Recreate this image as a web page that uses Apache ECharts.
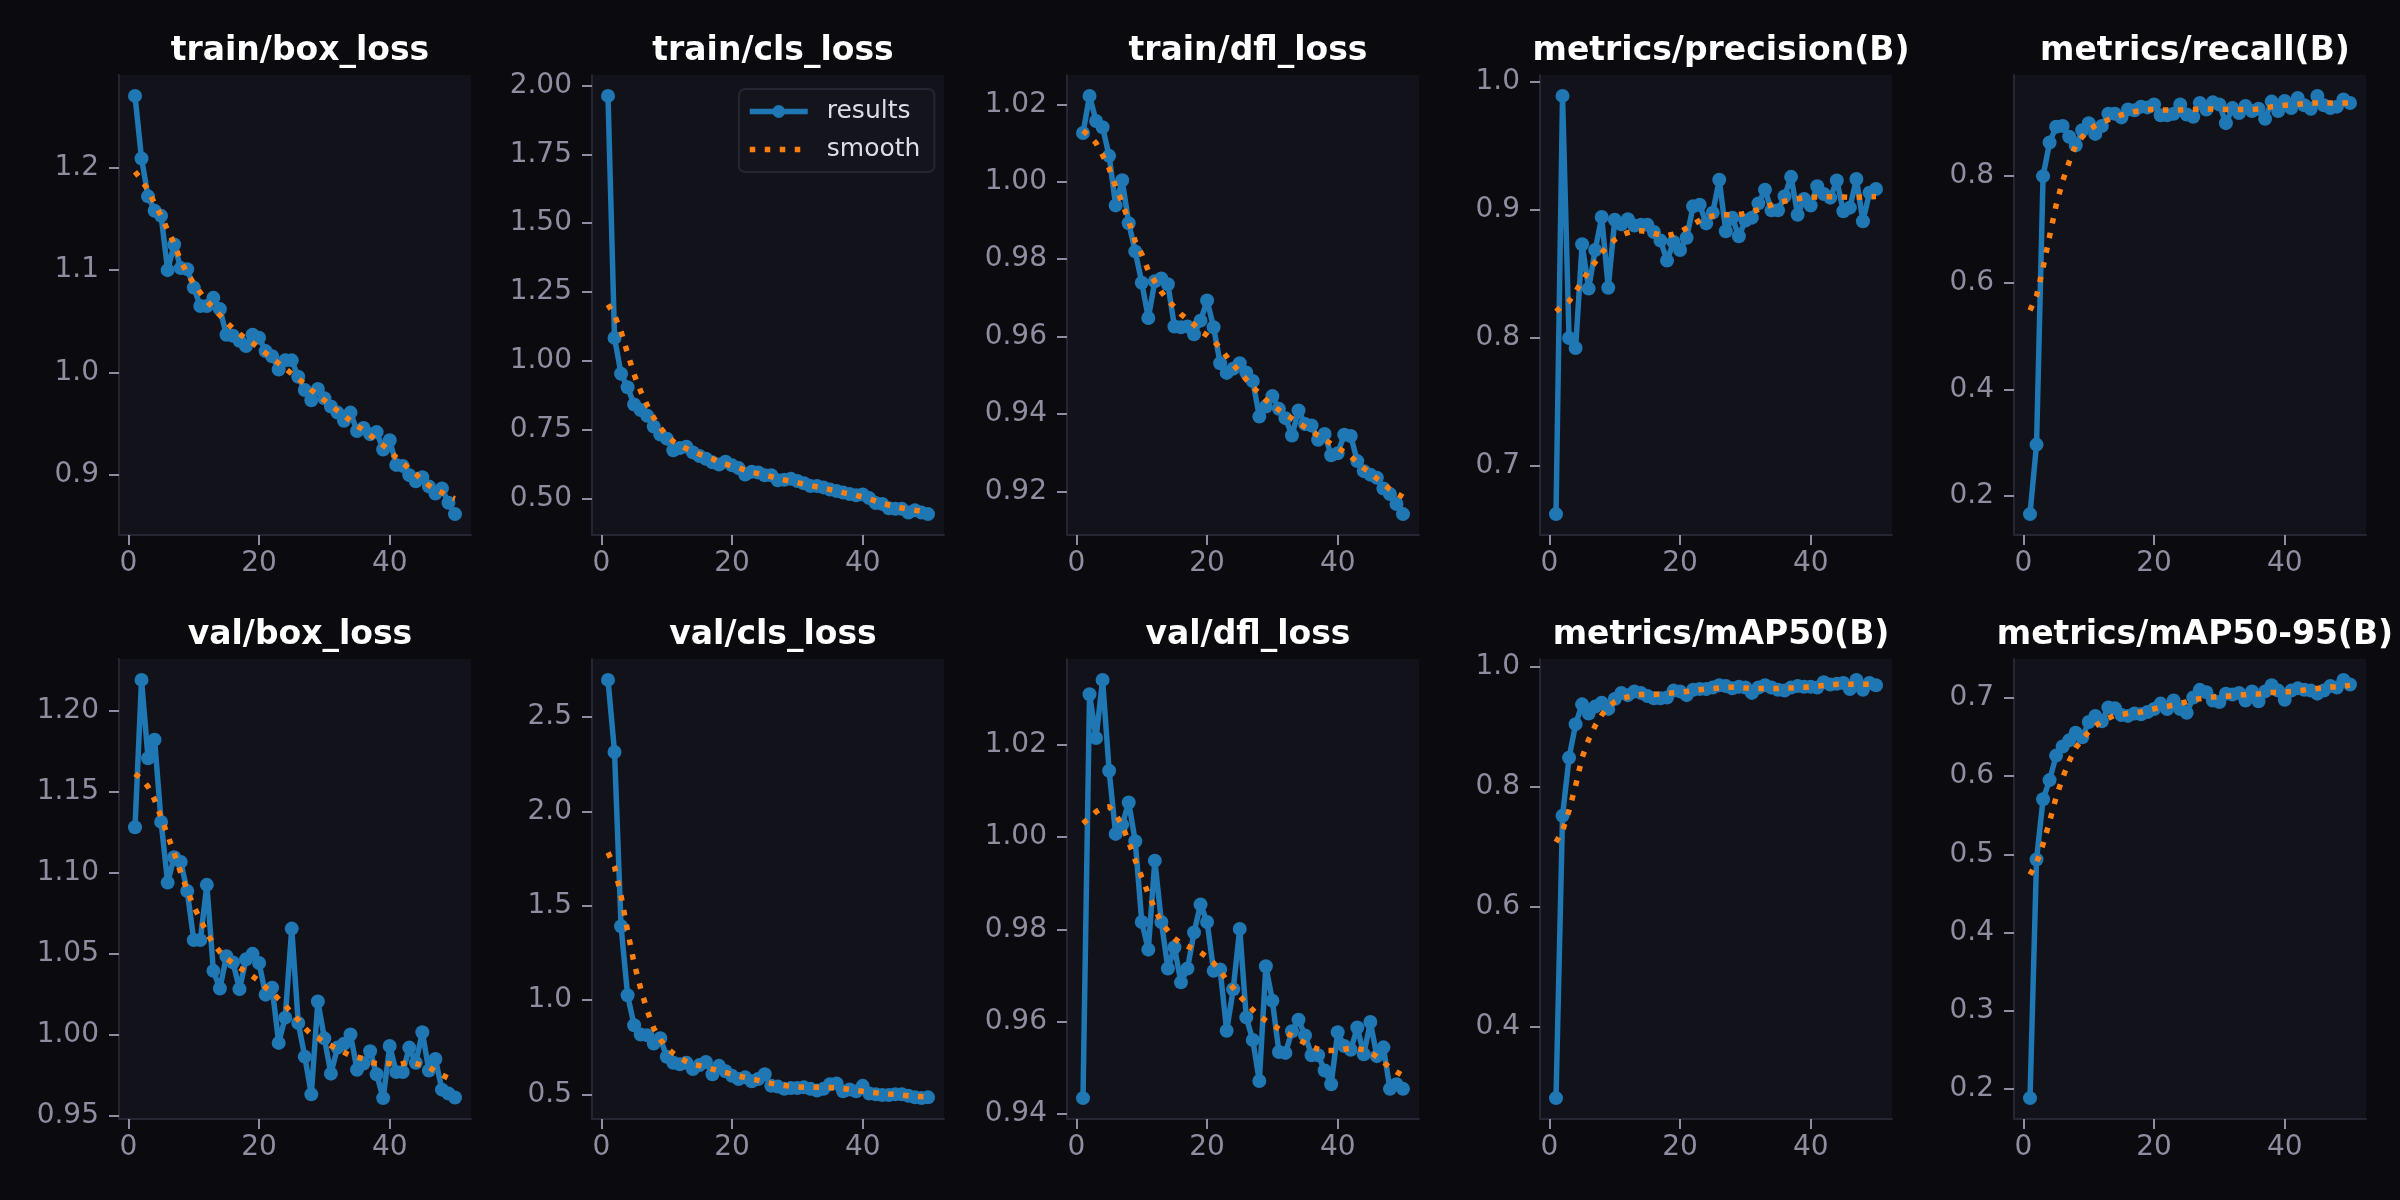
<!DOCTYPE html>
<html lang="en">
  <head>
    <meta charset="UTF-8" />
    <title>results</title>
    <script src="https://cdn.jsdelivr.net/npm/echarts/dist/echarts.min.js"></script>
    <style>
      * {
        padding: 0;
        margin: 0;
      }
      body {
        background-color: #0b0b0f;
      }
      #main {
        width: 2400px;
        height: 1200px;
      }
    </style>
  </head>
  <body>
    <div id="main"></div>
    <script>
      // epochs on the x axis
      var epochs = [
        1, 2, 3, 4, 5, 6, 7, 8, 9, 10, 11, 12, 13, 14, 15, 16, 17, 18, 19, 20,
        21, 22, 23, 24, 25, 26, 27, 28, 29, 30, 31, 32, 33, 34, 35, 36, 37, 38,
        39, 40, 41, 42, 43, 44, 45, 46, 47, 48, 49, 50,
      ];
      var xTicks = [0, 20, 40];

      var trainBox = [
        1.27, 1.209, 1.172, 1.158, 1.153, 1.1, 1.125, 1.102, 1.101, 1.083,
        1.065, 1.065, 1.073, 1.062, 1.037, 1.036, 1.031, 1.026, 1.037, 1.034,
        1.021, 1.016, 1.003, 1.012, 1.012, 0.996, 0.983, 0.973, 0.984, 0.975,
        0.967, 0.961, 0.953, 0.961, 0.943, 0.946, 0.94, 0.942, 0.925, 0.934,
        0.91, 0.909, 0.9, 0.894, 0.898, 0.889, 0.882, 0.887, 0.873, 0.862,
      ];
      var trainBoxSmooth = [
        1.196, 1.188, 1.178, 1.165, 1.153, 1.139, 1.126, 1.109, 1.097, 1.087,
        1.078, 1.07, 1.063, 1.056, 1.049, 1.043, 1.038, 1.033, 1.029, 1.024,
        1.019, 1.014, 1.009, 1.004, 0.999, 0.994, 0.989, 0.983, 0.978, 0.973,
        0.968, 0.963, 0.958, 0.953, 0.948, 0.944, 0.939, 0.934, 0.929, 0.924,
        0.917, 0.912, 0.906, 0.901, 0.895, 0.89, 0.886, 0.883, 0.879, 0.877,
      ];

      var trainCls = [
        1.962, 1.083, 0.953, 0.904, 0.841, 0.821, 0.8, 0.761, 0.732, 0.717,
        0.675, 0.683, 0.688, 0.667, 0.654, 0.644, 0.631, 0.623, 0.633, 0.62,
        0.61, 0.587, 0.597, 0.594, 0.584, 0.584, 0.566, 0.568, 0.571, 0.563,
        0.555, 0.545, 0.545, 0.54, 0.532, 0.527, 0.521, 0.516, 0.511, 0.514,
        0.501, 0.483, 0.48, 0.464, 0.462, 0.462, 0.449, 0.457, 0.449, 0.443,
      ];
      var trainClsSmooth = [
        1.204, 1.165, 1.106, 1.027, 0.95, 0.89, 0.838, 0.793, 0.757, 0.728,
        0.707, 0.693, 0.681, 0.671, 0.661, 0.652, 0.644, 0.631, 0.625, 0.616,
        0.611, 0.603, 0.595, 0.59, 0.584, 0.579, 0.572, 0.567, 0.562, 0.557,
        0.552, 0.547, 0.542, 0.537, 0.532, 0.527, 0.521, 0.516, 0.511, 0.505,
        0.499, 0.49, 0.482, 0.476, 0.47, 0.465, 0.461, 0.457, 0.454, 0.452,
      ];

      var trainDfl = [
        1.0126, 1.0222, 1.0157, 1.0141, 1.0067, 0.9939, 1.0004, 0.9893, 0.982,
        0.9739, 0.9648, 0.9743, 0.975, 0.9735, 0.9626, 0.9624, 0.9626, 0.9606,
        0.9641, 0.9693, 0.9624, 0.9531, 0.9506, 0.9517, 0.9531, 0.9507, 0.9485,
        0.9393, 0.9419, 0.9446, 0.9413, 0.9389, 0.9344, 0.9409, 0.9374, 0.937,
        0.9333, 0.9348, 0.9293, 0.9298, 0.9346, 0.9343, 0.9278, 0.9252, 0.9243,
        0.9235, 0.9207, 0.9193, 0.9167, 0.9141,
      ];
      var trainDflSmooth = [
        1.0132, 1.0118, 1.01, 1.0069, 1.0035, 0.9987, 0.9946, 0.9899, 0.9846,
        0.9813, 0.977, 0.9742, 0.9715, 0.9694, 0.9676, 0.9658, 0.9644, 0.9631,
        0.9614, 0.9603, 0.9589, 0.957, 0.9548, 0.9527, 0.9508, 0.9489, 0.9469,
        0.9453, 0.9436, 0.9423, 0.941, 0.9399, 0.9388, 0.9377, 0.9366, 0.9355,
        0.9344, 0.9334, 0.9322, 0.9312, 0.9302, 0.929, 0.9274, 0.926, 0.9247,
        0.9233, 0.9219, 0.9205, 0.9195, 0.9185,
      ];

      var precision = [
        0.6626, 0.9886, 0.7999, 0.7921, 0.873, 0.8384, 0.8685, 0.8942, 0.839,
        0.892, 0.8886, 0.8925, 0.8875, 0.8881, 0.8881, 0.8825, 0.8758, 0.8602,
        0.8747, 0.8685, 0.878, 0.9026, 0.9037, 0.8892, 0.8976, 0.9232, 0.8831,
        0.8937, 0.8792, 0.8914, 0.8937, 0.9048, 0.9154, 0.8994, 0.8994, 0.9104,
        0.9255, 0.8959, 0.9082, 0.9032, 0.9182, 0.9121, 0.9093, 0.9227, 0.8987,
        0.9015, 0.9238, 0.8909, 0.9132, 0.916,
      ];
      var precisionSmooth = [
        0.8205, 0.825, 0.8285, 0.836, 0.844, 0.8522, 0.859, 0.8663, 0.872,
        0.8765, 0.88, 0.882, 0.8833, 0.8835, 0.8828, 0.8813, 0.8803, 0.8797,
        0.8808, 0.8828, 0.8855, 0.8885, 0.8915, 0.894, 0.895, 0.8956, 0.8959,
        0.8959, 0.8961, 0.897, 0.8985, 0.9, 0.902, 0.9037, 0.9054, 0.9065,
        0.9075, 0.9085, 0.9092, 0.9095, 0.9098, 0.9099, 0.9099, 0.9099, 0.9097,
        0.9094, 0.9095, 0.9098, 0.91, 0.9102,
      ];

      var recall = [
        0.1665, 0.2966, 0.7993, 0.8623, 0.8918, 0.8932, 0.8731, 0.857, 0.8851,
        0.8985, 0.8784, 0.8932, 0.916, 0.916, 0.9093, 0.924, 0.9227, 0.9294,
        0.928, 0.9334, 0.9133, 0.9133, 0.916, 0.9334, 0.9146, 0.9106, 0.9361,
        0.924, 0.9374, 0.9334, 0.8985, 0.9267, 0.9173, 0.9307, 0.9213, 0.9254,
        0.9066, 0.9388, 0.9213, 0.9401, 0.9267, 0.9455, 0.9321, 0.9254, 0.9495,
        0.9321, 0.9267, 0.9294, 0.9428, 0.9361,
      ];
      var recallSmooth = [
        0.548, 0.575, 0.628, 0.687, 0.745, 0.79, 0.826, 0.857, 0.873, 0.885,
        0.894, 0.9, 0.905, 0.91, 0.914, 0.917, 0.92, 0.922, 0.924, 0.924, 0.923,
        0.923, 0.923, 0.923, 0.924, 0.924, 0.925, 0.925, 0.925, 0.925, 0.924,
        0.924, 0.924, 0.924, 0.924, 0.925, 0.927, 0.929, 0.93, 0.932, 0.933,
        0.934, 0.935, 0.936, 0.936, 0.936, 0.936, 0.936, 0.936, 0.936,
      ];

      var valBox = [
        1.128, 1.219, 1.1706, 1.182, 1.1313, 1.0938, 1.1095, 1.1066, 1.0886,
        1.0583, 1.0583, 1.0924, 1.0393, 1.0284, 1.0483, 1.0445, 1.028, 1.0464,
        1.0498, 1.0441, 1.0246, 1.0289, 0.9948, 1.0104, 1.0654, 1.0071, 0.9863,
        0.963, 1.0204, 0.9976, 0.9758, 0.9919, 0.9943, 1.0, 0.9782, 0.982,
        0.9896, 0.9754, 0.9607, 0.9929, 0.9768, 0.9768, 0.9919, 0.9825, 1.0014,
        0.9777, 0.9848, 0.9659, 0.9635, 0.9611,
      ];
      var valBoxSmooth = [
        1.161, 1.158, 1.153, 1.145, 1.134, 1.123, 1.112, 1.1, 1.089, 1.079,
        1.071, 1.063, 1.056, 1.051, 1.047, 1.044, 1.041, 1.039, 1.036, 1.033,
        1.029, 1.026, 1.022, 1.018, 1.013, 1.009, 1.004, 1.0, 0.998, 0.995,
        0.993, 0.991, 0.989, 0.987, 0.986, 0.985, 0.983, 0.982, 0.982, 0.982,
        0.981, 0.982, 0.983, 0.982, 0.981, 0.98, 0.977, 0.975, 0.973, 0.971,
      ];

      var valCls = [
        2.697, 2.315, 1.391, 1.025, 0.866, 0.817, 0.813, 0.769, 0.797, 0.699,
        0.667, 0.659, 0.667, 0.634, 0.655, 0.671, 0.606, 0.651, 0.622, 0.598,
        0.581, 0.59, 0.569, 0.581, 0.606, 0.545, 0.541, 0.529, 0.533, 0.533,
        0.537, 0.529, 0.52, 0.529, 0.553, 0.557, 0.516, 0.525, 0.516, 0.545,
        0.504, 0.5, 0.496, 0.496, 0.5, 0.5, 0.492, 0.484, 0.48, 0.484,
      ];
      var valClsSmooth = [
        1.782, 1.707, 1.552, 1.365, 1.195, 1.061, 0.945, 0.85, 0.79, 0.746,
        0.717, 0.694, 0.674, 0.658, 0.652, 0.643, 0.634, 0.624, 0.616, 0.606,
        0.597, 0.589, 0.581, 0.574, 0.565, 0.558, 0.552, 0.547, 0.542, 0.539,
        0.538, 0.537, 0.537, 0.537, 0.536, 0.534, 0.53, 0.526, 0.521, 0.516,
        0.512, 0.508, 0.505, 0.502, 0.5, 0.496, 0.493, 0.49, 0.488, 0.487,
      ];

      var valDfl = [
        0.9434, 1.031, 1.0215, 1.0341, 1.0144, 1.0007, 1.0027, 1.0075, 0.9991,
        0.9816, 0.9756, 0.9949, 0.9816, 0.9715, 0.9761, 0.9685, 0.9715, 0.9793,
        0.9854, 0.9816, 0.971, 0.9713, 0.958, 0.967, 0.9801, 0.9609, 0.956,
        0.9471, 0.972, 0.9645, 0.9534, 0.9532, 0.9579, 0.9604, 0.957, 0.9527,
        0.9527, 0.9494, 0.9464, 0.9577, 0.9547, 0.9539, 0.9587, 0.9529, 0.9599,
        0.9525, 0.9544, 0.9454, 0.9464, 0.9454,
      ];
      var valDflSmooth = [
        1.003, 1.0042, 1.0055, 1.0064, 1.0066, 1.005, 1.0025, 0.999, 0.995,
        0.9913, 0.9877, 0.9845, 0.9815, 0.9797, 0.978, 0.977, 0.9763, 0.9758,
        0.975, 0.974, 0.9727, 0.971, 0.969, 0.9673, 0.9655, 0.964, 0.9625,
        0.9612, 0.9602, 0.9593, 0.9584, 0.9576, 0.9569, 0.9561, 0.9553, 0.9546,
        0.954, 0.9537, 0.9537, 0.9537, 0.954, 0.9542, 0.9541, 0.9539, 0.9533,
        0.9524, 0.9512, 0.95, 0.9491, 0.9483,
      ];

      var map50 = [
        0.2818, 0.7521, 0.8487, 0.9047, 0.9377, 0.9225, 0.9339, 0.9403, 0.9301,
        0.9466, 0.9568, 0.953, 0.9593, 0.9568, 0.9517, 0.9479, 0.9479, 0.9492,
        0.9606, 0.9593, 0.953, 0.9619, 0.9631, 0.9631, 0.9657, 0.9695, 0.9682,
        0.9644, 0.9669, 0.9657, 0.9568, 0.9657, 0.9695, 0.9657, 0.9619, 0.9606,
        0.9657, 0.9682, 0.9669, 0.9669, 0.9657, 0.9746, 0.9708, 0.972, 0.9733,
        0.9631, 0.9784, 0.9619, 0.9733, 0.9695,
      ];
      var map50Smooth = [
        0.708, 0.727, 0.761, 0.802, 0.849, 0.879, 0.902, 0.92, 0.934, 0.942,
        0.947, 0.95, 0.953, 0.954, 0.954, 0.954, 0.955, 0.956, 0.957, 0.958,
        0.959, 0.961, 0.962, 0.963, 0.964, 0.965, 0.966, 0.966, 0.966, 0.965,
        0.964, 0.964, 0.964, 0.964, 0.964, 0.965, 0.965, 0.966, 0.966, 0.967,
        0.968, 0.969, 0.97, 0.971, 0.971, 0.971, 0.971, 0.971, 0.971, 0.971,
      ];

      var map5095 = [
        0.1883, 0.4933, 0.5705, 0.5949, 0.6262, 0.6379, 0.6457, 0.6555, 0.6497,
        0.6692, 0.677, 0.6702, 0.6878, 0.6868, 0.678, 0.677, 0.68, 0.679,
        0.6819, 0.6858, 0.6927, 0.6858, 0.6966, 0.6858, 0.6809, 0.7005, 0.7103,
        0.7073, 0.6966, 0.6946, 0.7054, 0.7044, 0.7064, 0.6966, 0.7083, 0.6956,
        0.7083, 0.7161, 0.7093, 0.6976, 0.7093, 0.7122, 0.7103, 0.7093, 0.7054,
        0.7093, 0.7152, 0.7132, 0.723, 0.7171,
      ];
      var map5095Smooth = [
        0.474, 0.489, 0.513, 0.542, 0.573, 0.598, 0.619, 0.636, 0.647, 0.657,
        0.664, 0.67, 0.674, 0.678, 0.679, 0.68, 0.681, 0.682, 0.684, 0.686,
        0.688, 0.689, 0.691, 0.693, 0.695, 0.698, 0.699, 0.7, 0.701, 0.702,
        0.702, 0.703, 0.704, 0.704, 0.705, 0.705, 0.706, 0.707, 0.707, 0.708,
        0.708, 0.709, 0.71, 0.711, 0.712, 0.713, 0.714, 0.714, 0.715, 0.716,
      ];

      var titles = [
        "train/box_loss",
        "train/cls_loss",
        "train/dfl_loss",
        "metrics/precision(B)",
        "metrics/recall(B)",
        "val/box_loss",
        "val/cls_loss",
        "val/dfl_loss",
        "metrics/mAP50(B)",
        "metrics/mAP50-95(B)",
      ];
      var yTicks = [
        [0.9, 1.0, 1.1, 1.2],
        [0.5, 0.75, 1.0, 1.25, 1.5, 1.75, 2.0],
        [0.92, 0.94, 0.96, 0.98, 1.0, 1.02],
        [0.7, 0.8, 0.9, 1.0],
        [0.2, 0.4, 0.6, 0.8],
        [0.95, 1.0, 1.05, 1.1, 1.15, 1.2],
        [0.5, 1.0, 1.5, 2.0, 2.5],
        [0.94, 0.96, 0.98, 1.0, 1.02],
        [0.4, 0.6, 0.8, 1.0],
        [0.2, 0.3, 0.4, 0.5, 0.6, 0.7],
      ];
      var yDecimals = [1, 2, 2, 1, 1, 2, 1, 2, 1, 1];

      var resultsList = [
        trainBox, trainCls, trainDfl, precision, recall,
        valBox, valCls, valDfl, map50, map5095,
      ];
      var smoothList = [
        trainBoxSmooth, trainClsSmooth, trainDflSmooth, precisionSmooth, recallSmooth,
        valBoxSmooth, valClsSmooth, valDflSmooth, map50Smooth, map5095Smooth,
      ];

      var gridLefts = [119, 592, 1067, 1540, 2014];
      var gridTops = [75, 659];
      var gridW = 352;
      var gridH = 460;

      var fontFamily = "DejaVu Sans";
      var labelColor = "#8e8ea0";
      var spineColor = "#262632";
      var blue = "#1f77b4";
      var orange = "#ff7f0e";
      var dotPattern = [5.5, 9.5];

      function pairs(ys) {
        return ys.map(function (y, i) {
          return [epochs[i], y];
        });
      }

      var grids = [];
      var xAxes = [];
      var yAxes = [];
      var series = [];
      var titleList = [];

      for (var i = 0; i < 10; i++) {
        var row = Math.floor(i / 5);
        var col = i % 5;
        var all = resultsList[i].concat(smoothList[i]);
        var lo = Math.min.apply(null, all);
        var hi = Math.max.apply(null, all);
        var pad = (hi - lo) * 0.05;

        grids.push({
          left: gridLefts[col],
          top: gridTops[row],
          width: gridW,
          height: gridH,
          show: true,
          backgroundColor: "#12121a",
          borderWidth: 0,
          containLabel: false,
          outerBoundsMode: "none",
        });

        titleList.push({
          text: titles[i],
          left: gridLefts[col] + gridW / 2,
          top: gridTops[row] - 45,
          textAlign: "center",
          textStyle: {
            color: "#ffffff",
            fontFamily: fontFamily,
            fontWeight: "bold",
            fontSize: 33,
          },
        });

        xAxes.push({
          gridIndex: i,
          type: "value",
          min: -1.45,
          max: 52.45,
          axisLine: {
            show: true,
            onZero: false,
            lineStyle: { color: spineColor, width: 2 },
          },
          axisTick: {
            show: true,
            length: 10,
            customValues: xTicks,
            lineStyle: { color: labelColor, width: 2 },
          },
          axisLabel: {
            customValues: xTicks,
            color: labelColor,
            fontFamily: fontFamily,
            fontSize: 28,
            margin: 15,
          },
          splitLine: { show: false },
        });

        (function (dec, ticks) {
          yAxes.push({
            gridIndex: i,
            type: "value",
            min: lo - pad,
            max: hi + pad,
            axisLine: {
              show: true,
              onZero: false,
              lineStyle: { color: spineColor, width: 2 },
            },
            axisTick: {
              show: true,
              length: 10,
              customValues: ticks,
              lineStyle: { color: labelColor, width: 2 },
            },
            axisLabel: {
              customValues: ticks,
              color: labelColor,
              fontFamily: fontFamily,
              fontSize: 28,
              margin: 20,
              formatter: function (v) {
                return Number(v).toFixed(dec);
              },
            },
            splitLine: { show: false },
          });
        })(yDecimals[i], yTicks[i]);

        series.push({
          name: "results",
          type: "line",
          xAxisIndex: i,
          yAxisIndex: i,
          data: pairs(resultsList[i]),
          symbol: "circle",
          symbolSize: 14,
          showSymbol: true,
          itemStyle: { color: blue },
          lineStyle: { color: blue, width: 5.5 },
          z: 2,
        });
        series.push({
          name: "smooth",
          type: "line",
          xAxisIndex: i,
          yAxisIndex: i,
          data: pairs(smoothList[i]),
          symbol: "none",
          showSymbol: false,
          itemStyle: { color: orange },
          lineStyle: { color: orange, width: 5.5, type: dotPattern, cap: "butt" },
          z: 3,
        });
      }

      var myChart = echarts.init(document.getElementById("main"));
      var option = {
        backgroundColor: "#0b0b0f",
        animation: false,
        title: titleList,
        legend: {
          data: [
            {
              name: "results",
              itemStyle: { color: blue },
              lineStyle: { color: blue, width: 5.5 },
            },
            {
              name: "smooth",
              itemStyle: { color: orange, opacity: 0 },
              lineStyle: { color: orange, width: 5.5, type: dotPattern, cap: "butt" },
            },
          ],
          orient: "vertical",
          left: 739,
          top: 89,
          padding: [10, 14, 10, 8],
          itemWidth: 58,
          itemHeight: 16,
          itemGap: 13,
          backgroundColor: "#14141c",
          borderColor: "#262632",
          borderWidth: 2,
          borderRadius: 6,
          textStyle: {
            color: "#dcdce4",
            fontFamily: fontFamily,
            fontSize: 25,
            padding: [0, 0, 0, 14],
          },
        },
        grid: grids,
        xAxis: xAxes,
        yAxis: yAxes,
        series: series,
      };
      myChart.setOption(option);
    </script>
  </body>
</html>
